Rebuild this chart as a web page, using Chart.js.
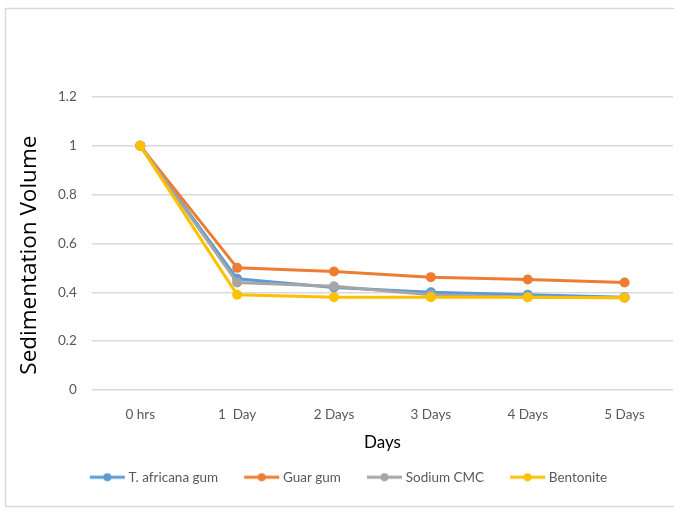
<!DOCTYPE html>
<html>
<head>
<meta charset="utf-8">
<script src="https://cdn.jsdelivr.net/npm/chart.js@4/dist/chart.umd.min.js"></script>
<style>
  html, body { margin: 0; padding: 0; background: #fff; }
  #wrap { width: 674px; height: 510px; position: relative; }
</style>
</head>
<body>
<div id="wrap"><canvas id="c" width="674" height="510"></canvas></div>
<script>
// Sampling times
const categories = ['0 hrs', '1  Day', '2 Days', '3 Days', '4 Days', '5 Days'];

// Sedimentation volume for each suspending agent
const tAfricana = [1.0, 0.455, 0.42, 0.40, 0.39, 0.38];
const guarGum   = [1.0, 0.50, 0.485, 0.462, 0.452, 0.44];
const sodiumCMC = [1.0, 0.44, 0.425, 0.39, 0.38, 0.378];
const bentonite = [1.0, 0.39, 0.38, 0.38, 0.38, 0.378];

const yTicks = [0, 0.2, 0.4, 0.6, 0.8, 1, 1.2];

const seriesNames = ['T. africana gum', 'Guar gum', 'Sodium CMC', 'Bentonite'];
const seriesColors = ['#5b9bd5', '#ed7d31', '#a5a5a5', '#ffc000'];

const tickFont = { family: 'Lato', size: 13.5 };

// Legend key: a short line with a dot, sitting at the right of a wider box
function legendMarker(color) {
  const cv = document.createElement('canvas');
  cv.width = 50; cv.height = 12;
  const g = cv.getContext('2d');
  g.strokeStyle = color; g.lineWidth = 3;
  g.beginPath(); g.moveTo(13, 6); g.lineTo(48, 6); g.stroke();
  g.fillStyle = color;
  g.beginPath(); g.arc(30.5, 6, 4, 0, Math.PI * 2); g.fill();
  return cv;
}

const frame = {
  id: 'frame',
  beforeDraw(chart) {
    const ctx = chart.ctx;
    ctx.save();
    ctx.fillStyle = '#fff';
    ctx.fillRect(0, 0, chart.width, chart.height);
    ctx.strokeStyle = '#d9d9d9';
    ctx.lineWidth = 1.5;
    ctx.strokeRect(5.5, 8.5, chart.width + 10, chart.height - 12);
    ctx.restore();
  }
};

const values = [tAfricana, guarGum, sodiumCMC, bentonite];
// later series sit on top of earlier ones
const datasets = values.map((v, i) => ({
  label: seriesNames[i],
  data: v,
  borderColor: seriesColors[i],
  backgroundColor: seriesColors[i],
  borderWidth: 3,
  pointRadius: 5,
  pointHoverRadius: 5,
  pointBorderWidth: 0,
  tension: 0,
  order: values.length - i
}));

new Chart(document.getElementById('c'), {
  type: 'line',
  data: { labels: categories, datasets },
  plugins: [frame],
  options: {
    responsive: false,
    animation: false,
    layout: { autoPadding: false, padding: { top: 97, left: 16, right: 1, bottom: 16 } },
    plugins: {
      tooltip: { enabled: false },
      legend: {
        position: 'bottom',
        labels: {
          usePointStyle: true,
          pointStyleWidth: 40,
          color: '#595959',
          font: tickFont,
          padding: 18,
          generateLabels(chart) {
            return chart.data.datasets.map((d, i) => ({
              text: d.label,
              fillStyle: d.borderColor,
              strokeStyle: d.borderColor,
              pointStyle: legendMarker(d.borderColor),
              hidden: false,
              datasetIndex: i,
              fontColor: '#595959'
            }));
          }
        }
      }
    },
    scales: {
      x: {
        offset: true,
        grid: { display: false },
        border: { display: false },
        ticks: { color: '#595959', font: tickFont, padding: 9 },
        title: { display: true, text: 'Days', color: '#000', font: { family: 'Lato', size: 17 }, padding: { top: 0, bottom: 0 } }
      },
      y: {
        min: 0, max: 1.2,
        afterBuildTicks(axis) { axis.ticks = yTicks.map(v => ({ value: v })); },
        grid: { color: '#d9d9d9', lineWidth: 1.5, drawTicks: false },
        border: { display: false },
        ticks: {
          color: '#595959', font: tickFont, padding: 15,
          callback: v => String(Math.round(v * 10) / 10)
        },
        // trailing spaces nudge the rotated title a little below the axis centre
        title: { display: true, text: 'Sedimentation Volume    ', color: '#000', font: { family: 'Open Sans', size: 22.5 }, padding: { top: 0, bottom: 0 } }
      }
    }
  }
});
</script>
</body>
</html>
